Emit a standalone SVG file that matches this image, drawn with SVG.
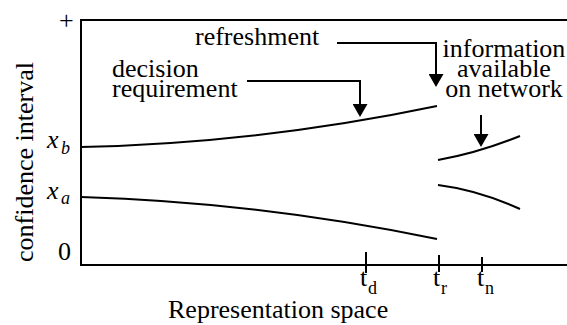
<svg xmlns="http://www.w3.org/2000/svg" width="567" height="325" viewBox="0 0 567 325">
<style>
.t{font-family:"Liberation Serif","Times New Roman",serif;font-size:26px;fill:#000}
.it{font-style:italic}
.sub{font-size:18px}
.ln{fill:none;stroke:#000;stroke-width:2}
</style>
<defs>
<marker id="ah" markerUnits="userSpaceOnUse" viewBox="0 0 13 15" markerWidth="13" markerHeight="15" refX="9" refY="7.5" orient="auto">
<path d="M0,0 L13,7.5 L0,15 z" fill="#000"/>
</marker>
</defs>
<rect width="567" height="325" fill="#fff"/>
<g id="axes">
<path class="ln" d="M567,20 H81 V265 H567"/>
<path class="ln" d="M366,252 V273 M439,255 V272 M482,257 V272"/>
<text class="t" x="59" y="29">+</text>
<text class="t" x="58" y="260">0</text>
<text class="t it" x="47" y="148">x</text><text class="t it sub" x="61" y="154">b</text>
<text class="t it" x="47" y="199">x</text><text class="t it sub" x="61" y="204">a</text>
<text class="t" transform="translate(33,262) rotate(-90)">confidence interval</text>
<text class="t" x="360" y="286">t</text><text class="t sub" x="368" y="294">d</text>
<text class="t" x="433" y="286">t</text><text class="t sub" x="441" y="294">r</text>
<text class="t" x="477" y="286">t</text><text class="t sub" x="485" y="294">n</text>
<text class="t" x="168" y="318">Representation space</text>
</g>
<g id="curves">
<path class="ln" d="M81,147 Q259,143.2 437,106"/>
<path class="ln" d="M81,197 Q259,202.2 437,239"/>
<path class="ln" d="M438,160 Q478,153 520,136"/>
<path class="ln" d="M438,185 Q478,190 520,209"/>
</g>
<g id="refreshment">
<text class="t" x="195" y="45">refreshment</text>
</g>
<g id="decision-requirement">
<text class="t" x="112" y="77">decision</text>
<text class="t" x="112" y="97">requirement</text>
</g>
<g id="information-available">
<text class="t" x="504" y="57" text-anchor="middle">information</text>
<text class="t" x="504" y="77" text-anchor="middle">available</text>
<text class="t" x="504" y="97" text-anchor="middle">on network</text>
</g>
<g id="connectors">
<path class="ln" d="M337,43 H436 V83" marker-end="url(#ah)"/>
<path class="ln" d="M247,81 H360 V113" marker-end="url(#ah)"/>
<path class="ln" d="M481,115 V143" marker-end="url(#ah)"/>
</g>
</svg>
